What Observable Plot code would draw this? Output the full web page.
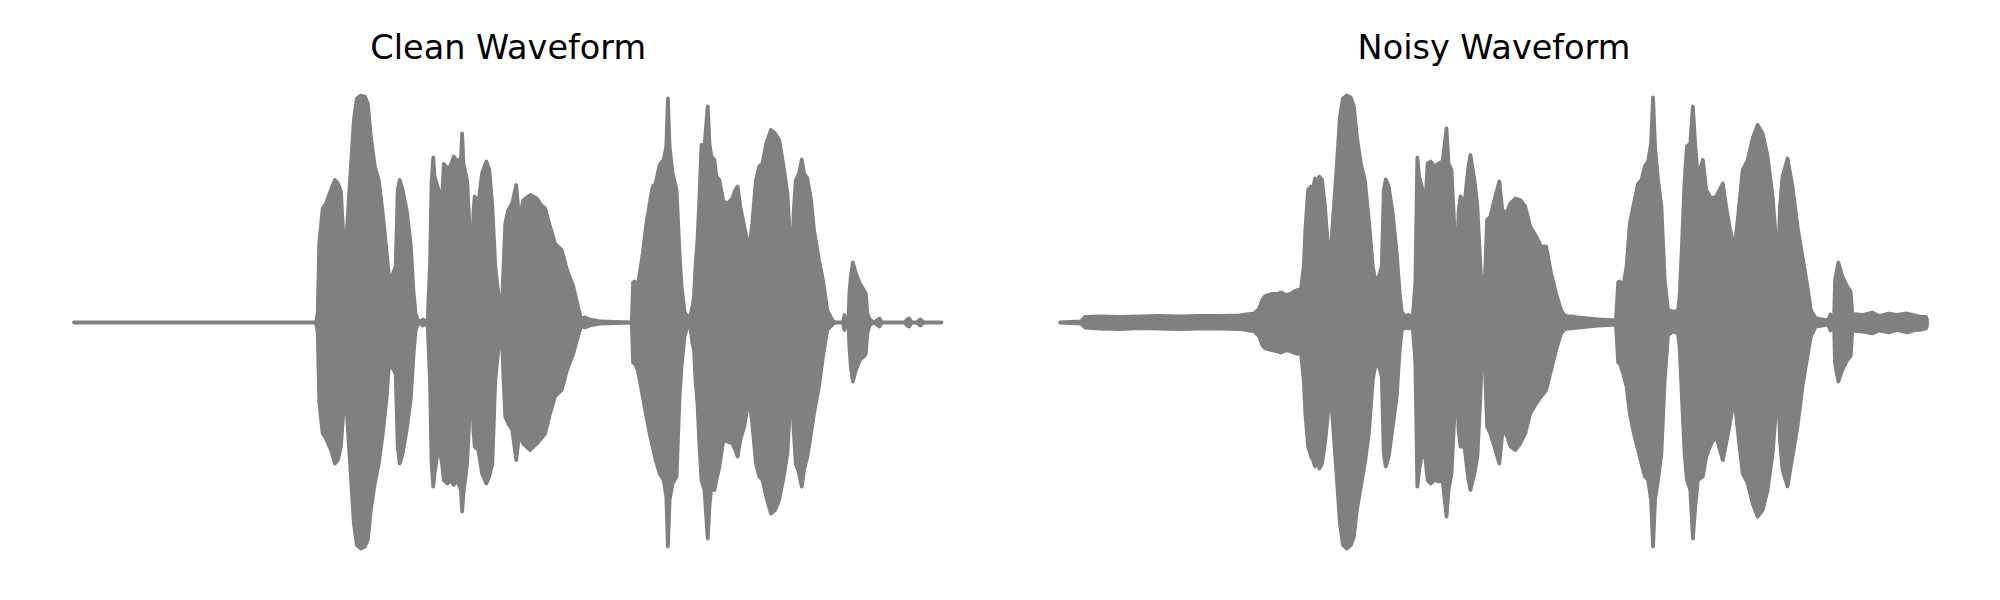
<!DOCTYPE html>
<html><head><meta charset="utf-8">
<script src="https://cdn.jsdelivr.net/npm/d3@7"></script>
<script src="https://cdn.jsdelivr.net/npm/@observablehq/plot@0.6"></script>
<style>
body{margin:0;background:#fff;}
#wrap{display:flex;width:2000px;height:600px;}
#wrap > div{width:1000px;height:600px;}
</style></head><body><div id="wrap"><div id="left"></div><div id="right"></div></div>
<script>
const titles = ["Clean Waveform", "Noisy Waveform"];

// Clean waveform envelope: frame index, upper and lower amplitude
const cleanT = [
0, 243, 244.7, 246.3, 249.7, 253, 258, 262, 265, 268,
271, 272.5, 274, 278, 281, 284, 288, 292, 295, 298,
302, 306, 310, 314, 316.5, 319, 323, 325, 327, 330,
334, 338, 341, 343, 345, 347, 350, 355, 357.5, 359,
360.7, 362, 365, 368, 369.5, 371.3, 375, 378, 381.3, 384.7,
388.5, 389.7, 391, 394.7, 397.3, 399.3, 401, 402.3, 406, 409.7,
414, 417, 420, 423, 426, 429.7, 431.3, 433, 436, 440,
444, 447, 451, 458, 464.7, 469, 473, 478, 483, 489.7,
495, 501.3, 506, 509, 513, 518, 524, 528, 560, 561.3,
563, 566, 568, 571, 574.7, 578, 581, 584, 588, 592,
594.7, 596.3, 598, 601, 605, 608, 610, 613, 616, 619,
621, 622.5, 624, 626, 628, 630, 633, 636.3, 638, 640,
643, 645, 648, 652, 656, 661, 664, 666.3, 669, 673,
678, 681, 684.7, 688, 691.3, 695, 699.7, 704, 708, 712,
716.3, 719, 720.7, 722.5, 724.7, 728, 730.7, 733, 736.3, 740,
743, 748, 752, 756.3, 761, 764, 772, 773.5, 775, 777.5,
778.5, 780, 782, 785, 789, 793, 795, 796.5, 799, 803,
808.7, 811, 834, 836.5, 838.5, 841, 846, 849.7, 853, 871];
const cleanHi = [
0, 0, 10, 80, 114, 119, 132.5, 142.5, 139, 131,
76, 59, 92.5, 156, 202.5, 224, 227, 226, 219, 186,
156, 142.5, 109, 69, 42.5, 46, 56, 132.5, 142.5, 132.5,
112.5, 79, 29, 9, 3, 0, 3, 0, 60, 140,
165, 146, 136, 126, 122, 158.5, 154, 156.5, 166, 161,
164, 189, 159, 142.5, 92.5, 26, 109, 126, 119, 149,
161, 152.5, 116, 56, 29, 19, 56, 99, 112.5, 119,
137.5, 102.5, 122, 127.5, 124, 117.5, 114, 96, 79, 72.5,
52.5, 36, 16, 4, 5, 3, 2, 1, 0, 40,
41, 36, 49, 69, 99, 119, 136, 139, 157.5, 162.5,
176, 224, 176, 149, 132.5, 69, 36, 11, 5, 7.5,
16, 26, 56, 82.5, 126, 177.5, 176, 216, 179, 166,
162.5, 146, 142.5, 121, 119, 124, 132.5, 136, 116, 96,
72.5, 99, 142.5, 156, 159, 179, 192.5, 189, 182.5, 159,
129, 82.5, 46, 109, 142.5, 149, 163, 149, 144, 122.5,
92.5, 62.5, 42.5, 12.5, 3, 0, 0, 7.5, 0, 0,
29, 46, 60, 49, 39, 32.5, 29, 9, 3, 0,
4, 0, 0, 3, 4, 0, 0, 3, 0, 0];
const cleanLo = [
0, 0, -10, -80, -111, -116, -127.5, -141, -137.5, -124,
-81, -61, -91, -154, -201, -222.5, -226, -224, -217.5, -187.5,
-161, -141, -111, -74, -37.5, -44, -51, -124, -141, -131,
-107.5, -77.5, -31, -7.5, -2.5, 0, -3, 0, -60, -140,
-164, -151, -131, -131, -141, -157.5, -161, -157.5, -162.5, -157.5,
-167.5, -189, -171, -141, -91, -11, -107.5, -124, -127.5, -151,
-161, -154, -141, -57.5, -27.5, -17.5, -57.5, -94, -101, -107.5,
-137.5, -111, -121, -127.5, -121, -116, -111, -91, -74, -67.5,
-47.5, -31, -14, -4, -5, -3, -2, -1, 0, -40,
-41, -47.5, -57.5, -74, -94, -111, -124, -137.5, -151, -157.5,
-174, -224, -177.5, -161, -154, -74, -44, -14, -4, -6,
-21, -27.5, -57.5, -81, -124, -157.5, -167.5, -216, -184, -164,
-167.5, -157.5, -144, -117.5, -119, -121, -127.5, -134, -117.5, -104,
-74, -101, -141, -154, -157.5, -174, -191, -187.5, -177.5, -157.5,
-131, -84, -51, -107.5, -141, -151, -164, -147.5, -134, -111,
-91, -64, -34, -7.5, -2.5, 0, 0, -7.5, 0, 0,
-24, -44, -59, -47.5, -37.5, -34, -31, -11, -2.5, 0,
-4, 0, 0, -3, -4, 0, 0, -3, 0, 0];

// Noisy waveform envelope
const noisyT = [
0, 21, 25, 40, 60, 80, 100, 120, 140, 160,
180, 195, 200, 203, 206, 212, 218, 222, 227, 232,
237, 242, 244.7, 246.3, 249, 252, 254, 256, 258, 260.3,
263, 266, 269, 271, 274, 278, 281, 284, 288, 292,
295, 298, 302, 306, 310, 314, 316.7, 320, 323, 325,
327, 330, 334, 338, 341, 343, 346, 350, 354, 356.7,
358.7, 360.5, 364, 367, 369, 372, 376, 380, 384, 388,
390, 393, 396, 398, 400, 402, 406, 410, 412, 416,
419, 422, 424, 426, 428.7, 432, 436, 441, 444, 448,
452, 457, 462, 467, 472, 478, 483, 488, 493, 498,
503, 506, 510, 515, 520, 530, 540, 550, 558, 560.3,
562, 565.3, 568.7, 572, 576, 580.3, 583.7, 587, 590.3, 593.3,
595.3, 597.3, 600.3, 603.7, 607, 610.3, 615.3, 620.3, 622, 624.7,
627, 629.3, 632.7, 635.3, 637.7, 640.3, 645.3, 648.7, 653.7, 658.7,
665.3, 668.7, 672, 677, 680.3, 685.3, 690.3, 695.3, 700.3, 705.3,
710.3, 715.3, 718.7, 720.3, 722.7, 725.3, 730.3, 735.3, 740.3, 745.3,
750.3, 753.7, 758.7, 771, 773.5, 775.5, 777, 778, 781.3, 785.3,
790.3, 793.7, 795.3, 805.3, 815.3, 822, 832, 840.3, 850.3, 858.7,
865.3, 869.3, 870.3];
const noisyHi = [
0, 1, 5.5, 6, 5.5, 6, 6.5, 6, 6.5, 6.5,
7, 9, 14, 22.5, 26.5, 28.5, 28.5, 30, 27.5, 29,
32, 34, 56, 92.5, 132.5, 136, 134, 144, 132.5, 146,
142.5, 116, 76, 60, 102.5, 159, 206, 224, 227, 225,
216, 186, 159, 142.5, 102.5, 56, 41, 46, 56, 132.5,
143, 136, 109, 69, 29, 11, 6.5, 7.5, 4, 40,
165, 146, 132.5, 122.5, 159, 161, 156, 159, 161, 194,
159, 152.5, 92.5, 26, 109, 126, 119, 156, 167.5, 142.5,
116, 56, 32.5, 29, 102.5, 106, 122.5, 141, 112.5, 109,
119, 124, 122.5, 116, 96, 86, 76, 76, 49, 29,
12.5, 7.5, 6, 6, 5, 4, 3, 2.5, 2, 40,
41, 36, 56, 99, 119, 139, 142.5, 156, 161, 179,
225, 176, 142.5, 116, 42.5, 12.5, 11, 11, 26, 86,
142.5, 176, 179, 216, 176, 146, 162.5, 132.5, 124, 126,
139, 116, 96, 74, 102.5, 152.5, 162.5, 184, 197.5, 189,
166, 126, 82.5, 46, 116, 146, 164, 136, 96, 66,
36, 12.5, 4, 2, 8, 2, 2, 42.5, 60, 46,
36, 31, 8.5, 7.5, 10, 6.5, 9, 7.5, 9, 7,
5.5, 5.5, 3];
const noisyLo = [
0, -1, -5, -6, -6.5, -5.5, -6, -6.5, -6, -6,
-6.5, -9, -14, -22.5, -26, -27.5, -29, -30, -27.5, -29,
-31, -31.5, -57.5, -91, -124, -134, -137.5, -144, -134, -146,
-141, -121, -91, -61, -101, -157.5, -201, -222.5, -226, -222.5,
-214, -187.5, -164, -141, -111, -57.5, -42.5, -44, -54, -131,
-144, -134, -104, -74, -27.5, -7.5, -5, -6, -4, -40,
-164, -147.5, -127.5, -137.5, -157.5, -161, -157.5, -159, -157.5, -194,
-167.5, -151, -91, -24, -107.5, -124, -124, -157.5, -167.5, -151,
-134, -74, -24, -27, -104, -111, -124, -141, -111, -111,
-124, -127.5, -121, -111, -91, -81, -74, -67.5, -47.5, -27.5,
-11, -7, -6, -5.5, -5, -4, -3, -2.5, -2, -40,
-41, -51, -64, -91, -111, -127.5, -141, -154, -157.5, -177.5,
-224, -177.5, -157.5, -131, -57.5, -12.5, -9, -11, -24, -84,
-131, -157.5, -167.5, -216, -184, -157.5, -154, -134, -121, -114,
-137.5, -121, -104, -74, -107.5, -151, -161, -181, -194, -187.5,
-167.5, -131, -87.5, -51, -117.5, -147.5, -164, -134, -104, -64,
-34, -14, -4, -2, -8, -2, -2, -41, -59, -47.5,
-37.5, -33.5, -8, -9, -11, -8, -10, -7.5, -10, -7.5,
-7, -6, -3];

function panel(title, T, Hi, Lo, mLeft, mRight) {
  const rows = T.map((t, i) => ({t, hi: Hi[i], lo: Lo[i]}));
  return Plot.plot({
    width: 1000, height: 600,
    marginLeft: mLeft, marginRight: mRight, marginTop: 72.5, marginBottom: 27.5,
    x: {domain: [0, T[T.length - 1]], axis: null},
    y: {domain: [-250, 250], axis: null},
    style: {fontFamily: "DejaVu Sans", background: "white", overflow: "visible"},
    marks: [
      Plot.areaY(rows, {x: "t", y1: "lo", y2: "hi", fill: "#808080", stroke: "#808080",
        strokeWidth: 3.8, strokeLinejoin: "round", curve: "linear"}),
      Plot.text([title], {text: d => d, frameAnchor: "top", lineAnchor: "top", dy: -38,
        fontSize: 33.5, fill: "black", fontFamily: "DejaVu Sans"})
    ]
  });
}

document.getElementById("left").append(panel(titles[0], cleanT, cleanHi, cleanLo, 74, 58.5));
document.getElementById("right").append(panel(titles[1], noisyT, noisyHi, noisyLo, 60, 73));
</script>
</body></html>
